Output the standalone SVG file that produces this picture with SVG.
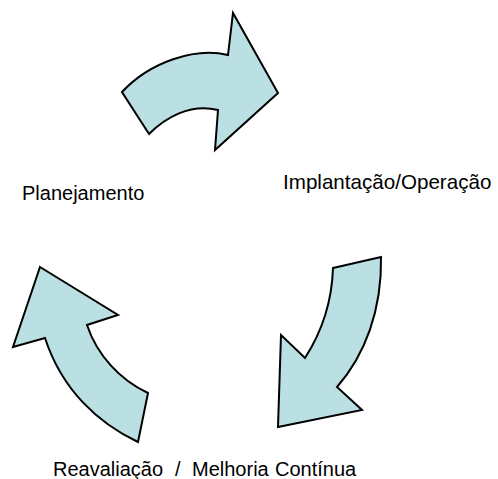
<svg xmlns="http://www.w3.org/2000/svg" width="498" height="479" viewBox="0 0 498 479">
<style>
.arrow{fill:#BBE0E3;stroke:#000;stroke-width:2;stroke-linejoin:miter}
.lbl{font-family:"Liberation Sans",Arial,sans-serif;font-size:20px;fill:#000}
</style>
<rect width="498" height="479" fill="#fff"/>
<g id="connectors">
<path id="arrow-top" class="arrow" d="M122,92 C150,62 195,47 228,55 L233,13 L278,93 L215,150 L218,110 C190,103 165,118 149,134 Z"/>
<path id="arrow-right" class="arrow" d="M333,268 L381,257 C382,310 365,355 337,387 L362,410 L278,427 L281,335 L305,358 C323,330 332,300 333,268 Z"/>
<path id="arrow-left" class="arrow" d="M40,267 L118,315 L87,325 C97,355 120,380 148,393 L138,442 C98,423 62,390 45,338 L13,347 Z"/>
</g>
<g id="node-planejamento"><text class="lbl" x="22" y="200">Planejamento</text></g>
<g id="node-implantacao"><text class="lbl" x="283" y="189" style="font-size:20.6px">Implantação/Operação</text></g>
<g id="node-reavaliacao"><text class="lbl" y="476"><tspan x="53">Reavaliação</tspan><tspan x="175">/</tspan><tspan x="192">Melhoria</tspan><tspan x="275">Contínua</tspan></text></g>
</svg>
